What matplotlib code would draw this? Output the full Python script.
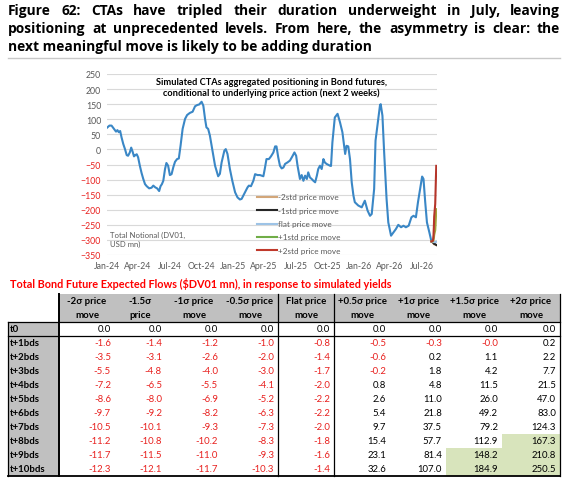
import numpy as np
import pandas as pd
import matplotlib
matplotlib.use('Agg')
import matplotlib.pyplot as plt
import matplotlib.dates as mdates

title_lines = ['Figure 62: CTAs have tripled their duration underweight in July, leaving',
               'positioning at unprecedented levels. From here, the asymmetry is clear: the',
               'next meaningful move is likely to be adding duration']
chart_title = ['Simulated CTAs aggregated positioning in Bond futures,',
               'conditional to underlying price action (next 2 weeks)']
table_title = 'Total Bond Future Expected Flows ($DV01 mn), in response to simulated yields'

dates = ['2024-01-01', '2024-01-09', '2024-01-15', '2024-01-22', '2024-01-28',
         '2024-02-01', '2024-02-05', '2024-02-09', '2024-02-13', '2024-02-18', '2024-02-23', '2024-02-28',
         '2024-03-03', '2024-03-08', '2024-03-12', '2024-03-16', '2024-03-20', '2024-03-24', '2024-03-28',
         '2024-04-01', '2024-04-06', '2024-04-11', '2024-04-16', '2024-04-21', '2024-04-26',
         '2024-05-03', '2024-05-10', '2024-05-15', '2024-05-21', '2024-05-26',
         '2024-06-01', '2024-06-05', '2024-06-09', '2024-06-13', '2024-06-18', '2024-06-22', '2024-06-27',
         '2024-07-02', '2024-07-07', '2024-07-12', '2024-07-17', '2024-07-23', '2024-07-28',
         '2024-08-02', '2024-08-08', '2024-08-15', '2024-08-21', '2024-08-29',
         '2024-09-06', '2024-09-13', '2024-09-19', '2024-09-25',
         '2024-10-02', '2024-10-07', '2024-10-12', '2024-10-16', '2024-10-21', '2024-10-26', '2024-10-31',
         '2024-11-05', '2024-11-10', '2024-11-19', '2024-11-24', '2024-11-29',
         '2024-12-07', '2024-12-11', '2024-12-16', '2024-12-23', '2024-12-30',
         '2025-01-07', '2025-01-14', '2025-01-21', '2025-01-26', '2025-01-31',
         '2025-02-07', '2025-02-12', '2025-02-16', '2025-02-22',
         '2025-03-01', '2025-03-06', '2025-03-13', '2025-03-20', '2025-03-25', '2025-03-30',
         '2025-04-03', '2025-04-08', '2025-04-15', '2025-04-21', '2025-04-28',
         '2025-05-03', '2025-05-07', '2025-05-12', '2025-05-17', '2025-05-22', '2025-05-27',
         '2025-06-01', '2025-06-08', '2025-06-15', '2025-06-22', '2025-06-28',
         '2025-07-03', '2025-07-07', '2025-07-14', '2025-07-19', '2025-07-24', '2025-07-29',
         '2025-08-03', '2025-08-07', '2025-08-12', '2025-08-17', '2025-08-22', '2025-08-27',
         '2025-09-01', '2025-09-05', '2025-09-10', '2025-09-15', '2025-09-20', '2025-09-24', '2025-09-29',
         '2025-10-04', '2025-10-09', '2025-10-12', '2025-10-16', '2025-10-23', '2025-10-31',
         '2025-11-07', '2025-11-14', '2025-11-22', '2025-11-26',
         '2025-12-01', '2025-12-06', '2025-12-11', '2025-12-16', '2025-12-20', '2025-12-30',
         '2026-01-09', '2026-01-18', '2026-01-26',
         '2026-02-02', '2026-02-07', '2026-02-14', '2026-02-18', '2026-02-26',
         '2026-03-03', '2026-03-05', '2026-03-10', '2026-03-15', '2026-03-22', '2026-03-27',
         '2026-04-04', '2026-04-11', '2026-04-18', '2026-04-25',
         '2026-05-03', '2026-05-10', '2026-05-17', '2026-05-25',
         '2026-06-02', '2026-06-08', '2026-06-15', '2026-06-21', '2026-06-28',
         '2026-07-03', '2026-07-07', '2026-07-12', '2026-07-17', '2026-07-24', '2026-07-30']

positioning = [71, 79, 79, 68, 59,
               64, 57, 61, 40, 18, 1, -19,
               -21, -10, 6, -7, -23, -19, -16,
               -26, -54, -78, -98, -115, -122,
               -129, -127, -120, -126, -129,
               -138, -122, -115, -104, -65, -45, -54,
               -85, -82, -59, -41, -32, -30,
               12, 68, 101, 114, 121,
               125, 143, 147, 149,
               158, 145, 101, 73, 68, 46, 12,
               -21, -54, -89, -81, -43,
               -4, 1, -15, -65, -104,
               -142, -159, -166, -164, -153,
               -137, -126, -120, -122,
               -104, -82, -85, -85, -87, -89,
               -65, -32, -32, -23, -10,
               10, 10, -26, -54, -63, -60,
               -48, -43, -37, -23, -10,
               -21, -54, -98, -85, -104, -87,
               -98, -76, -93, -98, -104, -109,
               -87, -65, -54, -65, -32, -43, -48,
               -51, -54, -55, 23, 106, 118,
               90, 57, -15, 12,
               10, -32, -109, -153, -175, -186,
               -192, -170, -203,
               -220, -214, -131, 29, 101,
               147, 150, 112, -10, -164, -242,
               -286, -275, -264, -250,
               -258, -253, -258, -253,
               -225, -220, -225, -175, -126,
               -90, -98, -175, -242, -275, -305]

# table of expected flows
row_labels = ['t0', 't+1bds', 't+2bds', 't+3bds', 't+4bds', 't+5bds',
              't+6bds', 't+7bds', 't+8bds', 't+9bds', 't+10bds']
col_labels = ['-2σ price\nmove', '-1.5σ\nprice', '-1σ price\nmove', '-0.5σ price\nmove',
              'Flat price\nmove', '+0.5σ price\nmove', '+1σ price\nmove',
              '+1.5σ price\nmove', '+2σ price\nmove']
m2 = [0.0, -1.6, -3.5, -5.5, -7.2, -8.6, -9.7, -10.5, -11.2, -11.7, -12.3]
m15 = [0.0, -1.4, -3.1, -4.8, -6.5, -8.0, -9.2, -10.1, -10.8, -11.5, -12.1]
m1 = [0.0, -1.2, -2.6, -4.0, -5.5, -6.9, -8.2, -9.3, -10.2, -11.0, -11.7]
m05 = [0.0, -1.0, -2.0, -3.0, -4.1, -5.2, -6.3, -7.3, -8.3, -9.3, -10.3]
flat = [0.0, -0.8, -1.4, -1.7, -2.0, -2.2, -2.2, -2.0, -1.8, -1.6, -1.4]
p05 = [0.0, -0.5, -0.6, -0.2, 0.8, 2.6, 5.4, 9.7, 15.4, 23.1, 32.6]
p1 = [0.0, -0.3, 0.2, 1.8, 4.8, 11.0, 21.8, 37.5, 57.7, 81.4, 107.0]
p15 = [0.0, -0.0, 1.1, 4.2, 11.5, 26.0, 49.2, 79.2, 112.9, 148.2, 184.9]
p2 = [0.0, 0.2, 2.2, 7.7, 21.5, 47.0, 83.0, 124.3, 167.3, 210.8, 250.5]
table_cols = [m2, m15, m1, m05, flat, p05, p1, p15, p2]
highlight = [(7, 9), (7, 10), (8, 8), (8, 9), (8, 10)]  # (col, row)

scen_labels = ['-2std price move', '-1std price move', 'flat price move',
               '+1std price move', '+2std price move']
scen_flows = [m2, m1, flat, p1, p2]
scen_colors = ['#d2a679', '#262626', '#9dc3e6', '#a3a23a', '#b5352a']
legend_colors = ['#d2a679', '#262626', '#9dc3e6', '#70ad47', '#c0392b']

red = '#e8201e'
grey_txt = '#595959'

fig = plt.figure(figsize=(5.64, 4.85), dpi=100)
ov = fig.add_axes([0, 0, 1, 1])
ov.set_xlim(0, 564)
ov.set_ylim(485, 0)
ov.axis('off')
ov.set_zorder(5)
renderer = fig.canvas.get_renderer()


def fit_size(text, width, **kw):
    t = ov.text(0, 0, text, fontsize=10, **kw)
    w = t.get_window_extent(renderer).width
    t.remove()
    return 10 * width / w


# figure title, justified
tfont = dict(family=['Open Sans', 'DejaVu Sans'], fontweight='bold', color='black', va='center')
tsize = fit_size(title_lines[2], 364, **tfont)
for i, line in enumerate(title_lines):
    y = 11 + 18 * i
    if i < 2:
        words = line.split()
        texts = [ov.text(0, y, w, fontsize=tsize, **tfont) for w in words]
        widths = [t.get_window_extent(renderer).width for t in texts]
        gap = (560 - 8 - sum(widths)) / (len(words) - 1)
        x = 8
        for t, w in zip(texts, widths):
            t.set_x(x)
            x += w + gap
    else:
        ov.text(8, y, line, fontsize=tsize, **tfont)
ov.plot([8, 560], [59, 59], color='#c8c8c8', lw=1)

# chart
ax = fig.add_axes([106.7 / 564, 1 - 256 / 485, (437.3 - 106.7) / 564, (256 - 75) / 485])
d = pd.to_datetime(dates)
ax.plot(d, positioning, color='#3a87c6', lw=1.5, zorder=3)

proj_dates = pd.bdate_range(d[-1], periods=len(m2))
for flows, lab, col in zip(scen_flows, scen_labels, scen_colors):
    ax.plot(proj_dates, positioning[-1] + np.array(flows), color=col, lw=1.5, zorder=4, label=lab)

ax.set_ylim(-350, 250)
ax.set_yticks(np.arange(-350, 251, 50))
ax.set_xlim(pd.Timestamp('2024-01-01'), pd.Timestamp('2026-08-16'))
ax.set_xticks(pd.date_range('2024-01-01', '2026-07-01', freq='3MS'))
ax.xaxis.set_major_formatter(mdates.DateFormatter('%b-%y'))
ax.grid(axis='y', color='#d9d9d9', lw=0.8)
ax.set_axisbelow(True)
for s in ax.spines.values():
    s.set_visible(False)
ax.tick_params(length=0, labelsize=6.3, labelcolor=grey_txt, pad=4)
for lab in ax.get_xticklabels() + ax.get_yticklabels():
    lab.set_family('Lato')
for v, lab in zip(ax.get_yticks(), ax.get_yticklabels()):
    if v < 0:
        lab.set_color(red)

# chart title and notes
cfont = dict(family='Lato', fontweight='bold', color='black', ha='center', va='center')
csize = fit_size(chart_title[0], 231, **cfont)
for i, line in enumerate(chart_title):
    ov.text(271, 82.5 + 11 * i, line, fontsize=csize, **cfont)
ov.text(110, 240, 'Total Notional (DV01,\nUSD mn)', family='Lato', fontsize=5.6,
        color=grey_txt, va='center', linespacing=1.2)

# legend
for i, (lab, col) in enumerate(zip(scen_labels, legend_colors)):
    y = 198 + 13.3 * i
    ov.plot([257, 277], [y, y], color=col, lw=1.5)
    ov.text(278, y, lab, family='Lato', fontsize=5.9, color=grey_txt, va='center')

# table
ov.text(10, 284, table_title, family='Lato', fontweight='bold', color='#ff0000',
        fontsize=fit_size(table_title, 383, family='Lato', fontweight='bold'), va='center')
edges = [8, 59, 115, 166, 222, 278, 334, 390, 446, 502, 560]
row_top = [323] + [337 + 14 * i for i in range(10)]
row_h = [14] * 11
head_top, head_bot = 295, 323
bottom = 477

ov.add_patch(plt.Rectangle((edges[1], head_top), edges[-1] - edges[1], head_bot - head_top,
                           color='#c0c0c0', lw=0))
ov.add_patch(plt.Rectangle((edges[0], head_bot), edges[1] - edges[0], bottom - head_bot,
                           color='#c0c0c0', lw=0))
for c, r in highlight:
    ov.add_patch(plt.Rectangle((edges[c + 1], row_top[r]), edges[c + 2] - edges[c + 1], row_h[r],
                               color='#d8e4bc', lw=0))

for j, lab in enumerate(col_labels):
    xc = (edges[j + 1] + edges[j + 2]) / 2
    for k, part in enumerate(lab.split('\n')):
        ov.text(xc, 302 + 14 * k, part, family='Lato', fontweight='bold', fontsize=6.9,
                ha='center', va='center', color='black')

for i, lab in enumerate(row_labels):
    yc = row_top[i] + row_h[i] / 2
    ov.text(10, yc, lab, family='Lato', fontweight='bold', fontsize=6.9, va='center', color='black')
    for j, col in enumerate(table_cols):
        v = col[i]
        ov.text(edges[j + 2] - 4, yc, f'{v:.1f}', family='Lato', fontsize=6.9, ha='right',
                va='center', color=red if np.signbit(v) else 'black')

lk = dict(color='black', lw=0.9)
ov.plot([edges[0], edges[-1]], [323, 323], **lk)
ov.plot([edges[0], edges[-1]], [337, 337], **lk)
ov.plot([edges[0], edges[-1]], [bottom, bottom], color='black', lw=1.3)
ov.plot([edges[0], edges[0]], [323, bottom], **lk)
ov.plot([edges[1], edges[1]], [head_top, bottom], color='black', lw=1.4)
ov.plot([edges[5], edges[5]], [head_top, bottom], **lk)
ov.plot([edges[6], edges[6]], [head_top, bottom], **lk)
ov.plot([edges[-1], edges[-1]], [head_top, bottom], **lk)

fig.savefig('out.png', dpi=100)
